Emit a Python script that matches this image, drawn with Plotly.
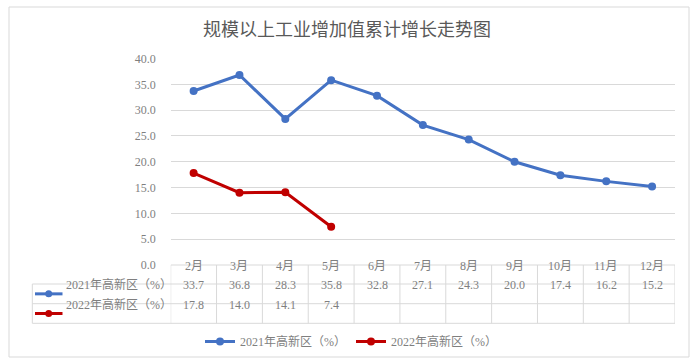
import plotly.graph_objects as go

months = ["2月", "3月", "4月", "5月", "6月", "7月", "8月", "9月", "10月", "11月", "12月"]
s2021_name = "2021年高新区（%）"
s2021 = [33.7, 36.8, 28.3, 35.8, 32.8, 27.1, 24.3, 20.0, 17.4, 16.2, 15.2]
s2022_name = "2022年高新区（%）"
s2022 = [17.8, 14.0, 14.1, 7.4]
title = "规模以上工业增加值累计增长走势图"
y_ticks = [0, 5, 10, 15, 20, 25, 30, 35, 40]

W, H = 694, 363
BLUE = "#4472C4"
RED = "#C00000"
GRID = "#D9D9D9"
TXT = "#7F7F7F"
FONT = "Liberation Serif, Noto Sans CJK SC"

def px(x):
    return x / W

def py(y):
    return (H - y) / H

x_left, x_right = 170.7, 675.0
y_top, y_zero = 58.5, 265.0
idx = list(range(len(months)))

fig = go.Figure()
fig.add_trace(go.Scatter(
    x=idx, y=s2021, name=s2021_name, mode="lines+markers",
    line=dict(color=BLUE, width=3), marker=dict(size=8, color=BLUE),
))
fig.add_trace(go.Scatter(
    x=idx[:len(s2022)], y=s2022, name=s2022_name, mode="lines+markers",
    line=dict(color=RED, width=3), marker=dict(size=8, color=RED),
))

shapes = []
annotations = []
# outer frame
shapes.append(dict(type="rect", xref="paper", yref="paper",
                   x0=px(9), x1=px(689), y0=py(357), y1=py(7),
                   line=dict(color=GRID, width=1)))

row_lines = [265.0, 284.0, 303.7, 323.3]
label_left = 32.3
# horizontal table lines
shapes.append(dict(type="line", xref="x", yref="paper", x0=-0.5, x1=len(months) - 0.5,
                   y0=py(row_lines[0]), y1=py(row_lines[0]), line=dict(color=GRID, width=1)))
for yl in row_lines[1:]:
    shapes.append(dict(type="line", xref="paper", yref="paper", x0=px(label_left), x1=px(x_right),
                       y0=py(yl), y1=py(yl), line=dict(color=GRID, width=1)))
# vertical lines
shapes.append(dict(type="line", xref="paper", yref="paper", x0=px(label_left), x1=px(label_left),
                   y0=py(row_lines[1]), y1=py(row_lines[3]), line=dict(color=GRID, width=1)))
for i in range(len(months) + 1):
    shapes.append(dict(type="line", xref="x", yref="paper", x0=i - 0.5, x1=i - 0.5,
                       y0=py(row_lines[0]), y1=py(row_lines[3]), line=dict(color=GRID, width=1)))

row_centers = [(row_lines[k] + row_lines[k + 1]) / 2 for k in range(3)]
for i, m in enumerate(months):
    annotations.append(dict(x=i, y=py(row_centers[0]), xref="x", yref="paper", text=m,
                            showarrow=False, font=dict(family=FONT, size=12, color=TXT)))
for i, v in enumerate(s2021):
    annotations.append(dict(x=i, y=py(row_centers[1]), xref="x", yref="paper", text=f"{v:.1f}",
                            showarrow=False, font=dict(family=FONT, size=12, color=TXT)))
for i, v in enumerate(s2022):
    annotations.append(dict(x=i, y=py(row_centers[2]), xref="x", yref="paper", text=f"{v:.1f}",
                            showarrow=False, font=dict(family=FONT, size=12, color=TXT)))

# row label legend keys
for k, (nm, col) in enumerate([(s2021_name, BLUE), (s2022_name, RED)]):
    yc = py(row_centers[k + 1])
    shapes.append(dict(type="line", xref="paper", yref="paper", x0=px(35), x1=px(62.5),
                       y0=yc, y1=yc, line=dict(color=col, width=3)))
    shapes.append(dict(type="circle", xref="paper", yref="paper", x0=px(45.2), x1=px(52.2),
                       y0=yc - 3.5 / H, y1=yc + 3.5 / H, fillcolor=col, line=dict(color=col, width=0)))
    annotations.append(dict(x=px(63.5), y=yc, xref="paper", yref="paper", text=nm,
                            xanchor="left", showarrow=False,
                            font=dict(family=FONT, size=12, color=TXT)))

fig.update_layout(
    width=W, height=H,
    margin=dict(l=0, r=0, t=0, b=0, pad=0, autoexpand=False),
    paper_bgcolor="white", plot_bgcolor="white",
    title=dict(text=title, x=0.5, xanchor="center", y=py(30), yanchor="middle",
               font=dict(family="Noto Sans CJK SC", size=18, color="#595959")),
    xaxis=dict(domain=[px(x_left), px(x_right)], range=[-0.5, len(months) - 0.5],
               showgrid=False, showticklabels=False, zeroline=False, showline=False,
               fixedrange=True, automargin=False),
    yaxis=dict(domain=[py(y_zero), py(y_top)], range=[0, 40], tickvals=y_ticks,
               tickformat=".1f", showgrid=True, gridcolor=GRID, gridwidth=1,
               zeroline=False, showline=False, ticks="", ticklabelstandoff=14,
               automargin=False,
               tickfont=dict(family=FONT, size=12, color=TXT)),
    showlegend=True,
    legend=dict(orientation="h", x=351 / W, xanchor="center", y=py(341.5), yanchor="middle",
                font=dict(family=FONT, size=12, color=TXT), itemwidth=30,
                bgcolor="rgba(0,0,0,0)"),
    shapes=shapes,
    annotations=annotations,
)

fig.write_html("out.html", config={"displayModeBar": False})
with open("out.html", "r", encoding="utf-8") as f:
    html = f.read()
html = html.replace("<body>", '<body style="margin:0;overflow:hidden">', 1)
with open("out.html", "w", encoding="utf-8") as f:
    f.write(html)
